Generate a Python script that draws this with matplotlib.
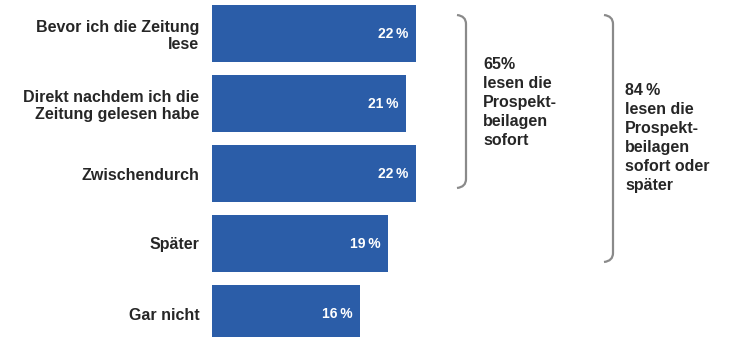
import matplotlib.pyplot as plt
from matplotlib.path import Path
from matplotlib.patches import PathPatch

plt.rcParams['font.family'] = ['Liberation Sans', 'DejaVu Sans']

categories = [
    "Bevor ich die Zeitung\nlese",
    "Direkt nachdem ich die\nZeitung gelesen habe",
    "Zwischendurch",
    "Später",
    "Gar nicht",
]
shares = [22, 21, 22, 19, 16]
value_labels = ["22\u2009%", "21\u2009%", "22\u2009%", "19\u2009%", "16\u2009%"]

note_sofort = "65%\nlesen die\nProspekt-\nbeilagen\nsofort"
note_spaeter = "84\u2009%\nlesen die\nProspekt-\nbeilagen\nsofort oder\nspäter"

W, H = 739, 337
BAR_COLOR = "#2b5da8"
TEXT_COLOR = "#262626"
BRACE_COLOR = "#8a8a8a"

fig = plt.figure(figsize=(W / 100, H / 100), dpi=100)
fig.patch.set_facecolor("white")

# bar axes: data 0 sits at x=212 px, ~9.25 px per percent
x0 = 212
ax = fig.add_axes([x0 / W, 0, 1 - x0 / W, 1])
ax.set_xlim(0, (W - x0) / 9.25)
ax.set_ylim(4 + (H - 313.5) / 70, -33.5 / 70)
ypos = list(range(len(categories)))
ax.barh(ypos, shares, height=57 / 70, color=BAR_COLOR)
for y, v, lab in zip(ypos, shares, value_labels):
    ax.text(v - 0.8, y, lab, ha="right", va="center", color="white",
            fontsize=10, fontweight="bold")
ax.set_yticks(ypos)
ax.set_yticklabels(categories, fontsize=11.5, fontweight="bold",
                   color=TEXT_COLOR, linespacing=1.2)
ax.tick_params(axis="y", length=0, pad=9)
ax.tick_params(axis="x", bottom=False, labelbottom=False)
for s in ax.spines.values():
    s.set_visible(False)

# overlay in pixel coordinates for the brackets and notes
ov = fig.add_axes([0, 0, 1, 1], facecolor="none")
ov.set_xlim(0, W)
ov.set_ylim(H, 0)
ov.axis("off")


def brace(x, top, bottom, curl=9):
    verts = [
        (x - curl, top), (x, top + 1), (x, top + curl),
        (x, bottom - curl),
        (x, bottom - 1), (x - curl, bottom),
    ]
    codes = [Path.MOVETO, Path.CURVE3, Path.CURVE3,
             Path.LINETO, Path.CURVE3, Path.CURVE3]
    ov.add_patch(PathPatch(Path(verts, codes), facecolor="none",
                           edgecolor=BRACE_COLOR, lw=1.6))


brace(466, 15, 188)
brace(613, 15, 262)

ov.text(483, 57, note_sofort, ha="left", va="top", fontsize=11.5,
        fontweight="bold", color=TEXT_COLOR, linespacing=1.33)
ov.text(625, 83, note_spaeter, ha="left", va="top", fontsize=11.5,
        fontweight="bold", color=TEXT_COLOR, linespacing=1.33)

fig.savefig("out.png", dpi=100, facecolor="white")
